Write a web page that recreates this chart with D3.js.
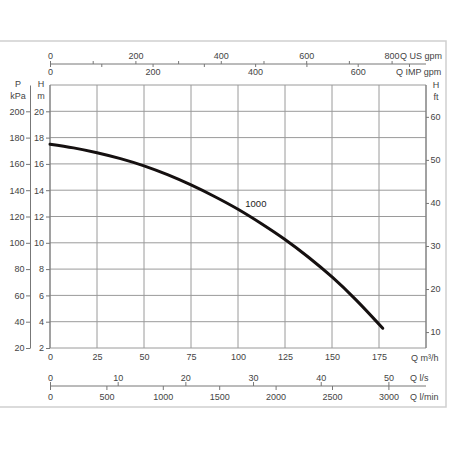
<!DOCTYPE html>
<html>
<head>
<meta charset="utf-8">
<script src="https://cdn.jsdelivr.net/npm/d3@7/dist/d3.min.js"></script>
<style>
  html, body { margin: 0; padding: 0; background: #fff; }
  svg { display: block; }
  text { font-family: "Liberation Sans", Arial, Helvetica, sans-serif; font-size: 9px; fill: #444; }
</style>
</head>
<body>
<svg id="chart" width="450" height="450"></svg>
<script>
// ---------- data ----------
const curveName = "1000";
const flowM3h = [0, 12.5, 25, 37.5, 50, 62.5, 75, 87.5, 100, 112.5, 125, 137.5, 150, 162.5, 177];
const headM   = [17.5, 17.22, 16.85, 16.4, 15.85, 15.18, 14.4, 13.52, 12.55, 11.45, 10.25, 8.9, 7.4, 5.7, 3.5];
const curveLabelAt = [109.5, 12.75]; // [Q m3/h, H m]

const m3hTicks   = [0, 25, 50, 75, 100, 125, 150, 175];
const hTicks     = [2, 4, 6, 8, 10, 12, 14, 16, 18, 20];
const kpaTicks   = [20, 40, 60, 80, 100, 120, 140, 160, 180, 200];
const ftTicks    = [10, 20, 30, 40, 50, 60];
const usTicks    = [0, 100, 200, 300, 400, 500, 600, 700, 800];
const impTicks   = [0, 100, 200, 300, 400, 500, 600, 700];
const lsTicks    = [0, 10, 20, 30, 40, 50];
const lminTicks  = [0, 500, 1000, 1500, 2000, 2500, 3000];

// axis ranges / conversions
const qDomain = [0, 200];      // m3/h
const hDomain = [2, 22];       // m
const kpaDomain = [20, 220];   // kPa
const ftDomain = [6.3, 67.4];  // ft (as drawn)
const usPerM3h = 4.403, impPerM3h = 3.666, lsPerM3h = 1 / 3.6, lminPerM3h = 1000 / 60;

// ---------- layout ----------
const svg = d3.select("#chart");
const L = 50, R = 426, T = 85, B = 348;
const gridCol = "#9a9a9a", axisCol = "#777", textCol = "#444";
const plain = d3.format("d");

const x = d3.scaleLinear().domain(qDomain).range([L, R]);
const y = d3.scaleLinear().domain(hDomain).range([B, T]);
const yKpa = d3.scaleLinear().domain(kpaDomain).range([B, T]);
const yFt = d3.scaleLinear().domain(ftDomain).range([B, T]);
const xUs = d3.scaleLinear().domain([0, qDomain[1] * usPerM3h]).range([L, R]);
const xImp = d3.scaleLinear().domain([0, qDomain[1] * impPerM3h]).range([L, R]);
const xLs = d3.scaleLinear().domain([0, qDomain[1] * lsPerM3h]).range([L, R]);
const xLmin = d3.scaleLinear().domain([0, qDomain[1] * lminPerM3h]).range([L, R]);

// outer frame
svg.append("path").attr("d", "M0,41 H446 V407 H0")
  .attr("stroke", "#d0d0d0").attr("stroke-width", 1.5).attr("fill", "none");

// grid
const grid = svg.append("g").attr("stroke", gridCol).attr("stroke-width", 1);
grid.selectAll("line.v").data(m3hTicks.concat([200])).join("line")
  .attr("x1", d => x(d)).attr("x2", d => x(d)).attr("y1", T).attr("y2", B);
grid.selectAll("line.h").data(hTicks.concat([22])).join("line")
  .attr("y1", d => y(d)).attr("y2", d => y(d)).attr("x1", L).attr("x2", R);

function styleAxis(g) {
  g.selectAll("path.domain").attr("stroke", axisCol).attr("stroke-width", 1);
  g.selectAll(".tick line").attr("stroke", axisCol).attr("stroke-width", 1);
  g.selectAll(".tick text").attr("fill", textCol).style("font-size", "9px")
    .style("font-family", '"Liberation Sans", Arial, sans-serif');
}

// left H (m) axis
svg.append("g").attr("transform", `translate(${L},0)`)
  .call(d3.axisLeft(y).tickValues(hTicks).tickFormat(plain).tickSize(4).tickSizeOuter(0).tickPadding(2))
  .call(styleAxis).call(g => g.select("path.domain").remove());

// kPa axis
svg.append("g").attr("transform", "translate(30,0)")
  .call(d3.axisLeft(yKpa).tickValues(kpaTicks).tickFormat(plain).tickSize(4).tickSizeOuter(0).tickPadding(1.5))
  .call(styleAxis);

// right ft axis
svg.append("g").attr("transform", `translate(${R},0)`)
  .call(d3.axisRight(yFt).tickValues(ftTicks).tickFormat(plain).tickSize(3).tickSizeOuter(0).tickPadding(1.5))
  .call(styleAxis).call(g => g.select("path.domain").remove());

// bottom m3/h
svg.append("g").attr("transform", `translate(0,${B})`)
  .call(d3.axisBottom(x).tickValues(m3hTicks).tickFormat(plain).tickSize(0).tickSizeOuter(0).tickPadding(6))
  .call(styleAxis).call(g => g.select("path.domain").remove());

// top US gpm / IMP gpm
const topY = 64;
svg.append("g").attr("transform", `translate(0,${topY})`)
  .call(d3.axisTop(xUs).tickValues(usTicks).tickFormat(d => d % 200 === 0 ? plain(d) : "")
    .tickSize(3).tickSizeOuter(0).tickPadding(2))
  .call(styleAxis)
  .call(g => g.select("path.domain").attr("d", `M${L},0H${R}`));
svg.append("g").attr("transform", `translate(0,${topY})`)
  .call(d3.axisBottom(xImp).tickValues(impTicks).tickFormat(d => d % 200 === 0 ? plain(d) : "")
    .tickSize(3).tickSizeOuter(0).tickPadding(2))
  .call(styleAxis).call(g => g.select("path.domain").remove());

// bottom l/s / l/min
const botY = 386;
svg.append("g").attr("transform", `translate(0,${botY})`)
  .call(d3.axisTop(xLs).tickValues(lsTicks).tickFormat(plain).tickSize(4).tickSizeOuter(0).tickPadding(1.5))
  .call(styleAxis)
  .call(g => g.select("path.domain").attr("d", `M${L},0H${R}`));
svg.append("g").attr("transform", `translate(0,${botY})`)
  .call(d3.axisBottom(xLmin).tickValues(lminTicks).tickFormat(plain).tickSize(4).tickSizeOuter(0).tickPadding(3.5))
  .call(styleAxis).call(g => g.select("path.domain").remove());

// plot left/right borders
svg.append("line").attr("x1", L).attr("x2", L).attr("y1", T).attr("y2", B).attr("stroke", axisCol);
svg.append("line").attr("x1", R).attr("x2", R).attr("y1", T).attr("y2", B).attr("stroke", axisCol);

// unit labels
const lab = (t, xx, yy, anchor) => svg.append("text").attr("x", xx).attr("y", yy)
  .attr("text-anchor", anchor || "start").attr("fill", textCol).style("fill", textCol).text(t);
lab("P", 18, 86.5, "middle");
lab("kPa", 18, 99, "middle");
lab("H", 41, 86.5, "middle");
lab("m", 41, 99, "middle");
lab("H", 436, 88, "middle");
lab("ft", 436, 100, "middle");
lab("Q US gpm", 400, 59);
lab("Q IMP gpm", 396, 75);
lab("Q m³/h", 411, 360.5);
lab("Q l/s", 410, 381);
lab("Q l/min", 410, 400);

// curve
const pts = flowM3h.map((q, i) => [q, headM[i]]);
svg.append("path").datum(pts)
  .attr("d", d3.line().x(d => x(d[0])).y(d => y(d[1])).curve(d3.curveCatmullRom.alpha(0.5)))
  .attr("fill", "none").attr("stroke", "#151010").attr("stroke-width", 3)
  .attr("stroke-linecap", "round");

svg.append("text").attr("x", x(curveLabelAt[0])).attr("y", y(curveLabelAt[1]))
  .attr("text-anchor", "middle")
  .style("font-family", '"Liberation Sans Narrow", "Arial Narrow", "Liberation Sans", sans-serif')
  .style("font-size", "9.5px").style("fill", "#222").text(curveName);
</script>
</body>
</html>
